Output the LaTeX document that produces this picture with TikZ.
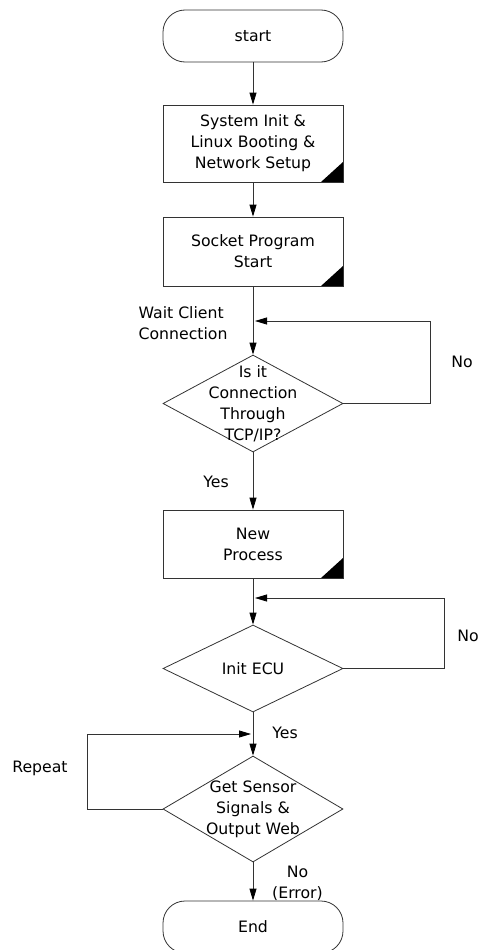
\documentclass[tikz,border=0pt]{standalone}
\usepackage{fontspec}
\setmainfont{DejaVu Sans}
\usetikzlibrary{shapes.geometric,arrows.meta}

\begin{document}
\begin{tikzpicture}[x=10pt,y=10pt,
        font=\fontsize{15.7}{21}\selectfont,
        line/.style={draw=black!80,line width=0.8pt},
        arr/.style={line,-{Triangle[length=12pt,width=7pt,color=black]}},
        term/.style={line,rectangle,rounded corners=22pt,minimum width=180pt,
            minimum height=52pt,fill=white},
        proc/.style={line,rectangle,minimum width=180pt,fill=white,align=center,
            path picture={\fill[black] (path picture bounding box.south east)
                -- ++(-22pt,0) -- ++(22pt,20pt) -- cycle;}},
        cond/.style={line,diamond,minimum width=180pt,inner sep=0pt,fill=white}]
\useasboundingbox (0,0) rectangle (47.8,-95);

% boxes
\node[term] (start) at (25.3,-3.6) {start};
\node[proc,minimum height=77pt] (init) at (25.3,-14.35)
    {System Init \&\\Linux Booting \&\\Network Setup};
\node[proc,minimum height=69pt] (sock) at (25.3,-25.15) {Socket Program\\Start};
\node[cond,minimum height=97pt] (conn) at (25.3,-40.35) {};
\node[align=center] (conntxt) at (conn) {Is it\\Connection\\Through\\TCP/IP?};
\node[proc,minimum height=68pt] (newp) at (25.3,-54.4) {New\\Process};
\node[cond,minimum height=87pt] (ecu) at (25.3,-66.85) {};
\node (ecutxt) at (ecu) {Init ECU};
\node[cond,minimum height=106pt] (sense) at (25.3,-80.9) {};
\node[align=center] (sensetxt) at (sense) {Get Sensor\\Signals \&\\Output Web};
\node[term] (end) at (25.3,-92.7) {End};

% loop targets
\coordinate (back1) at (25.5,-32.1);
\coordinate (back2) at (25.5,-59.8);
\coordinate (back3) at (25.1,-73.4);

% connectors
\draw[arr] (start) -- (init);
\draw[arr] (init) -- (sock);
\draw[arr] (sock) -- (conn);
\draw[arr] (conn.east) -- ++(8.7,0) |- (back1);
\draw[arr] (conn) -- (newp);
\draw[arr] (newp) -- (ecu);
\draw[arr] (ecu.east) -- ++(10.1,0) |- (back2);
\draw[arr] (ecu) -- (sense);
\draw[arr] (sense.west) -- ++(-7.5,0) |- (back3);
\draw[arr] (sense) -- (end);

% labels
\node[anchor=east,align=left] (wait) at (23.1,-32.35) {Wait Client\\Connection};
\node (yes1) at (21.6,-48.2) {Yes};
\node (no1) at (46.2,-36.2) {No};
\node (no2) at (46.8,-63.6) {No};
\node (yes2) at (28.5,-73.3) {Yes};
\node (rep) at (4.0,-76.8) {Repeat};
\node[align=center] (no3) at (29.75,-88.3) {No\\(Error)};

\end{tikzpicture}
\end{document}
